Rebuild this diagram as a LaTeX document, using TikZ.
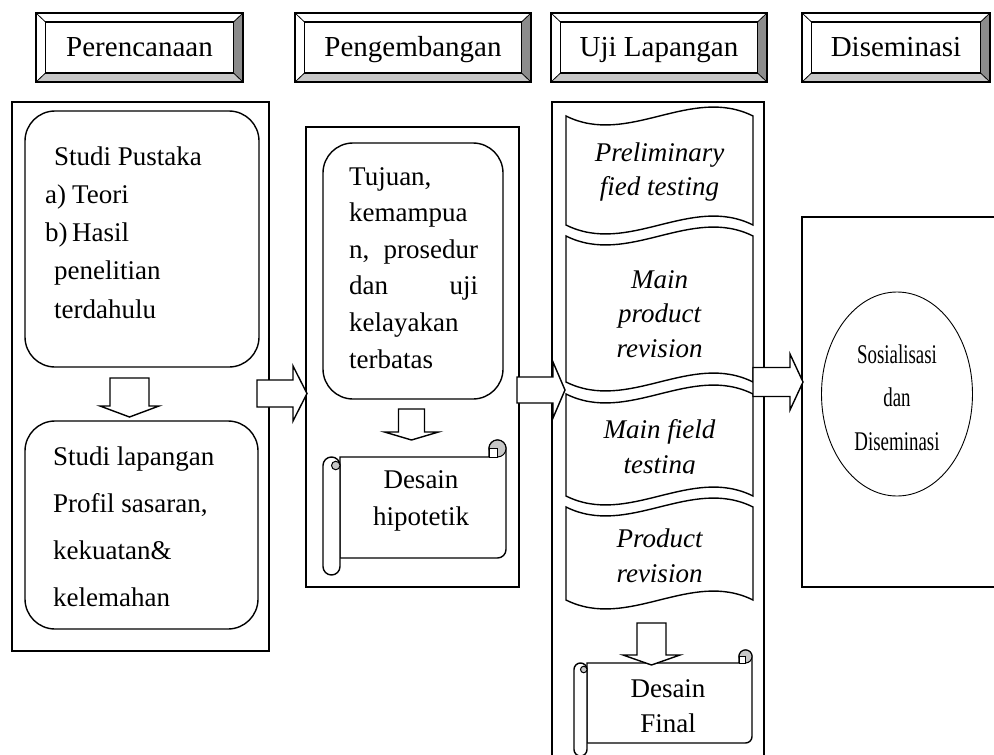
\documentclass[tikz,border=0pt]{standalone}
\usepackage{fontspec}
\setmainfont{Liberation Serif}
\usetikzlibrary{shapes.geometric}
\definecolor{bevR}{gray}{0.55}
\definecolor{bevB}{gray}{0.78}
\definecolor{curlc}{gray}{0.78}
\newcommand\leftpar[3]{\vtop{\hsize=#1\relax\fontsize{27}{#2}\selectfont\parindent=0pt\parskip=0pt\raggedright #3\par}}
\newcommand\centerpar[3]{\vtop{\hsize=#1\relax\fontsize{27}{#2}\selectfont\parindent=0pt\parskip=0pt\centering #3\par}}
\newcommand\hdrbtn[4]{%
 \fill[white] (#1,#2) rectangle (#3,#4);
 \fill[bevR] (#3,#2) -- (#3,#4) -- ({#3-9.5},{#4-9}) -- ({#3-9.5},{#2+9}) -- cycle;
 \fill[bevB] (#1,#4) -- (#3,#4) -- ({#3-9.5},{#4-9}) -- ({#1+9.5},{#4-9}) -- cycle;
 \draw[line width=1.1pt] (#1,#2) rectangle (#3,#4);
 \draw[line width=1.1pt] ({#1+9.5},{#2+9}) rectangle ({#3-9.5},{#4-9});
 \draw[line width=0.8pt] (#1,#2) -- ({#1+9.5},{#2+9}) (#3,#2) -- ({#3-9.5},{#2+9})
   (#1,#4) -- ({#1+9.5},{#4-9}) (#3,#4) -- ({#3-9.5},{#4-9});}
\newcommand\dblk[6]{%
 \draw[shp, fill=white] ({#1-#5},#2) -- ({#1+#5},#2) -- ({#1+#5},#3) -- ({#1+#6},#3) -- (#1,#4) -- ({#1-#6},#3) -- ({#1-#5},#3) -- cycle;}
\newcommand\rblk[6]{%
 \draw[shp, fill=white] (#1,{#4-#5}) -- (#2,{#4-#5}) -- (#2,{#4-#6}) -- (#3,#4) -- (#2,{#4+#6}) -- (#2,{#4+#5}) -- (#1,{#4+#5}) -- cycle;}
\newcommand\wavebox[2]{%
 \draw[shp, fill=white] (566,#1) .. controls (628.3,{#1+31}) and (690.7,{#1-31}) .. (753,#1) -- (753,#2) .. controls (690.7,{#2-31}) and (628.3,{#2+31}) .. (566,#2) -- cycle;}
\newcommand\scrollbox[5]{%
 \draw[shp, fill=white] ({#1+2*#5},{#4-2*#5}) -- ({#1+2*#5},{#2+2*#5}) -- ({#3-2*#5},{#2+2*#5}) -- ({#3-2*#5},{#2+#5}) arc[start angle=180,end angle=360,radius=#5] -- (#3,{#4-3*#5}) arc[start angle=0,end angle=90,radius=#5] -- cycle;
 \filldraw[shp, line width=1pt, fill=curlc] ({#3-#5},{#2+#5}) circle[radius=#5];
 \filldraw[shp, line width=1pt, fill=white] ({#3-2*#5},{#2+#5}) rectangle ({#3-#5},{#2+2*#5});
 \draw[shp, fill=white] ({#1+2*#5},{#2+3*#5}) arc[start angle=0,end angle=-180,radius=#5] -- (#1,{#4-#5}) arc[start angle=180,end angle=0,radius=#5] -- cycle;
 \filldraw[shp, line width=1pt, fill=curlc] ({#1+1.5*#5},{#2+3*#5}) circle[radius={0.5*#5}];}
\begin{document}
\begin{tikzpicture}[x=1pt, y=-1pt,
  shp/.style={draw, line width=1.4pt, line join=miter},
  txt/.style={inner sep=0pt}]
\useasboundingbox (0,0) rectangle (994,755);
\fill[white] (0,0) rectangle (994,755);
% headers
\hdrbtn{36}{13}{243}{82}
\hdrbtn{295}{13}{531}{82}
\hdrbtn{551}{13}{767}{82}
\hdrbtn{802}{13}{990}{82}
\begin{scope}[every node/.style={txt, anchor=base, font=\fontsize{29}{34}\selectfont}]
\node (h1) at (139.5,56) {Perencanaan};
\node (h2) at (413,56) {Pengembangan};
\node (h3) at (659,56) {Uji Lapangan};
\node (h4) at (896,56) {Diseminasi};
\end{scope}
% frames
\draw[shp] (12,102) rectangle (269,651);
\draw[shp] (306,127) rectangle (519,587);
\draw[shp] (552,102) rectangle (764,790);
\draw[shp] (802,217) rectangle (1010,587);
% column 1
\draw[shp, rounded corners=30pt] (25,111) rectangle (259,367);
\draw[shp, rounded corners=30pt] (25,421) rectangle (258,629);
\node[txt, anchor=base west] (pustaka) at (45,165) {\leftpar{210pt}{38.3pt}{\hspace*{9pt}Studi Pustaka\\ \makebox[27pt][l]{a)}Teori\\ \makebox[27pt][l]{b)}Hasil\\ \hspace*{9pt}penelitian\\ \hspace*{9pt}terdahulu}};
\node[txt, anchor=base west] (lapangan) at (53,465) {\leftpar{200pt}{47.3pt}{Studi lapangan\\ Profil sasaran,\\ kekuatan\&\\ kelemahan}};
\dblk{129.5}{378}{406}{417}{19.5}{29.5}
% column 2
\draw[shp, rounded corners=30pt] (323,143) rectangle (503,399);
\node[txt, anchor=base west] (tujuan) at (349,185) {\leftpar{129pt}{36.6pt}{Tujuan,\\ kemampua\\ n,\hfill prosedur\\ dan\hfill uji\\ kelayakan\\ terbatas}};
\dblk{411.5}{409}{432}{440}{13}{27}
\scrollbox{323}{440}{506}{575}{8.5}
\node[txt, anchor=base] (hipo) at (421,488) {\centerpar{160pt}{37pt}{Desain\\ hipotetik}};
% column 3
\wavebox{116}{225}
\node[txt, anchor=base] (w1) at (659.5,161) {\centerpar{185pt}{34pt}{\itshape Preliminary\\ fied testing}};
\wavebox{236}{382}
\node[txt, anchor=base] (w2) at (659.5,288) {\centerpar{185pt}{34.5pt}{\itshape Main\\ product\\ revision}};
\wavebox{394}{496}
\begin{scope}
\clip (560,380) rectangle (760,473.5);
\node[txt, anchor=base] (w3) at (659.5,438) {\centerpar{185pt}{35pt}{\itshape Main field\\ testing}};
\end{scope}
\wavebox{507}{600}
\node[txt, anchor=base] (w4) at (659.5,547) {\centerpar{185pt}{35pt}{\itshape Product\\ revision}};
\scrollbox{574}{650}{752}{756}{6.5}
\dblk{651.5}{623}{655}{665}{14.5}{28.5}
\node[txt, anchor=base] (final) at (668,697) {\centerpar{160pt}{35pt}{Desain\\ Final}};
% column 4
\node[draw, ellipse, line width=0.9pt, minimum width=151pt, minimum height=204pt, inner sep=0pt] (ell) at (897,394) {};
\node[txt, anchor=base] (sos) at (897,363) {\scalebox{0.7}[1]{\centerpar{130pt}{43.5pt}{Sosialisasi\\ dan\\ Diseminasi}}};
% block arrows
\rblk{257}{293}{307}{393.5}{13.5}{27.5}
\rblk{517}{553}{565}{390}{13}{28}
\rblk{753}{790}{803}{382}{14.5}{28}
\end{tikzpicture}
\end{document}
